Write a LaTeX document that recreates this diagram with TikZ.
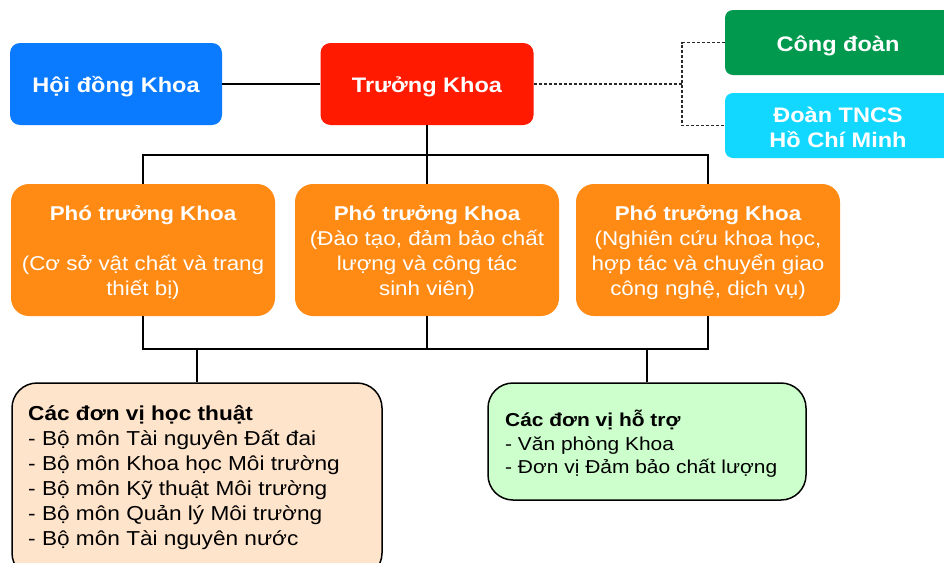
\documentclass[tikz,border=0pt]{standalone}
\usepackage{fontspec}
\setmainfont{Liberation Sans}[FakeStretch=1.12]
\definecolor{cblue}{RGB}{10,123,255}
\definecolor{cred}{RGB}{255,26,0}
\definecolor{cgreen}{RGB}{0,153,78}
\definecolor{ccyan}{RGB}{18,216,255}
\definecolor{corange}{RGB}{255,138,20}
\definecolor{cpeach}{RGB}{255,228,204}
\definecolor{cmint}{RGB}{204,255,204}
\definecolor{cdots}{RGB}{40,40,40}
\begin{document}
\begin{tikzpicture}[x=1pt,y=-1pt,
  topbox/.style={rectangle, rounded corners=10pt, inner sep=0pt},
  toptext/.style={text=white, inner sep=0pt, align=center, font=\fontsize{21}{25}\selectfont\bfseries},
  vpbox/.style={rectangle, rounded corners=18pt, fill=corange, inner sep=0pt,
    minimum width=264pt, minimum height=132pt},
  vptext/.style={text=white, inner sep=0pt, align=center, font=\fontsize{20}{25}\selectfont},
  unitbox/.style={rectangle, rounded corners=25pt, draw=black, line width=1.5pt, inner sep=0pt},
  unittext/.style={anchor=base west, inner sep=0pt, font=\fontsize{20.2}{25}\selectfont},
  conn/.style={draw=black, line width=1.6pt},
  dotline/.style={draw=cdots, line width=1.7pt, dash pattern=on 3pt off 2pt}]
\useasboundingbox (0,0) rectangle (944,562);
\fill[white] (0,0) rectangle (944,562);
% top row
\node[topbox, fill=cblue, minimum width=212pt, minimum height=82pt] (hd) at (116,84) {};
\node[topbox, fill=cred, minimum width=213pt, minimum height=82pt] (tk) at (427,84) {};
\node[topbox, fill=cgreen, rounded corners=8pt, minimum width=226pt, minimum height=65pt] (cd) at (838,42.5) {};
\node[topbox, fill=ccyan, rounded corners=8pt, minimum width=226pt, minimum height=65pt] (dt) at (838,125.5) {};
\node[toptext] (hdl) at ([yshift=-3pt]hd.center) {Hội đồng Khoa};
\node[toptext] (tkl) at ([yshift=-3pt]tk.center) {Trưởng Khoa};
\node[toptext] (cdl) at ([yshift=-3pt]cd.center) {Công đoàn};
\node[toptext] (dtl) at ([yshift=-2pt]dt.center) {Đoàn TNCS\\Hồ Chí Minh};
% vice deans
\node[vpbox] (vp1) at (143,250) {};
\node[vpbox] (vp2) at (427,250) {};
\node[vpbox] (vp3) at (708,250) {};
\node[vptext] (vp1l) at ([yshift=-3pt]vp1.center) {{\bfseries Phó trưởng Khoa}\\[25pt](Cơ sở vật chất và trang\\thiết bị)};
\node[vptext] (vp2l) at ([yshift=-3pt]vp2.center) {{\bfseries Phó trưởng Khoa}\\(Đào tạo, đảm bảo chất\\lượng và công tác\\sinh viên)};
\node[vptext] (vp3l) at ([yshift=-3pt]vp3.center) {{\bfseries Phó trưởng Khoa}\\(Nghiên cứu khoa học,\\hợp tác và chuyển giao\\công nghệ, dịch vụ)};
% units
\node[unitbox, fill=cpeach, minimum width=370pt, minimum height=195pt] (hv) at (197,480.5) {};
\node[unitbox, fill=cmint, minimum width=318pt, minimum height=117pt] (ht) at (647,441.5) {};
\node[unittext] (hvt) at (28,420.5) {\parbox[t]{350pt}{\raggedright\textbf{Các đơn vị học thuật}\\
- Bộ môn Tài nguyên Đất đai\\
- Bộ môn Khoa học Môi trường\\
- Bộ môn Kỹ thuật Môi trường\\
- Bộ môn Quản lý Môi trường\\
- Bộ môn Tài nguyên nước}};
\node[unittext, font=\fontsize{18.7}{23.5}\selectfont] (htt) at (505,426.5) {\parbox[t]{300pt}{\raggedright\textbf{Các đơn vị hỗ trợ}\\
- Văn phòng Khoa\\
- Đơn vị Đảm bảo chất lượng}};
% connectors
\draw[conn] (hd.east) -- (tk.west);
\coordinate (dj) at (682,84);
\draw[dotline] (tk.east) -- (dj);
\draw[dotline] (cd.west) -| (dj) |- (dt.west);
\coordinate (t1) at (427,155);
\draw[conn] (tk.south) -- (vp2.north);
\draw[conn] (vp1.north) |- (t1) -| (vp3.north);
\coordinate (b1) at (427,349);
\draw[conn] (vp2.south) -- (b1);
\draw[conn] (vp1.south) |- (b1) -| (vp3.south);
\draw[conn] (hv.north) -- (hv.north |- b1);
\draw[conn] (ht.north) -- (ht.north |- b1);
\end{tikzpicture}
\end{document}
